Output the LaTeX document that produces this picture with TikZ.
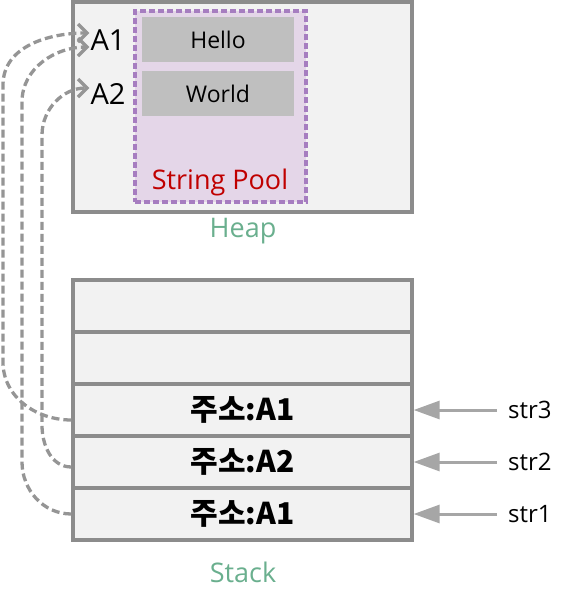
\documentclass[tikz,border=0pt]{standalone}
\usepackage{fontspec}
\setmainfont{Open Sans}
\newfontfamily\kr{Noto Sans CJK KR}
\usetikzlibrary{arrows.meta}
\definecolor{edgegray}{HTML}{8C8C8C}
\definecolor{areafill}{HTML}{F2F2F2}
\definecolor{cellgray}{HTML}{BFBFBF}
\definecolor{poolfill}{HTML}{E4D6E8}
\definecolor{poolpurple}{HTML}{A67DC0}
\definecolor{poolred}{HTML}{C00000}
\definecolor{capgreen}{HTML}{6AAF8E}
\definecolor{linkgray}{HTML}{959595}
\definecolor{ptrgray}{HTML}{A6A6A6}

\begin{document}
\begin{tikzpicture}[
  x=1pt, y=-1pt,
  area/.style={draw=edgegray, line width=3.3pt, fill=areafill,
    minimum width=339pt, inner sep=0pt},
  cell/.style={area, minimum height=52pt,
    font=\kr\bfseries\fontsize{30}{36}\selectfont},
  strbox/.style={fill=cellgray, minimum width=152pt, minimum height=45pt,
    inner sep=0pt, font=\fontsize{23}{28}\selectfont},
  addr/.style={font=\fontsize{29}{35}\selectfont, inner sep=0pt},
  caption/.style={text=capgreen, font=\fontsize{27}{32}\selectfont},
  ref/.style={draw=linkgray, line width=3.3pt, dash pattern=on 8pt off 4pt,
    -{Straight Barb[length=9pt,width=18pt]}},
  ptr/.style={draw=ptrgray, line width=3pt,
    -{Triangle[length=26pt,width=18pt]}},
  varname/.style={anchor=west, inner sep=0pt,
    font=\fontsize{24}{29}\selectfont}
]
  \useasboundingbox (0,0) rectangle (569,600);

  % heap with the string pool
  \node[area, minimum height=210pt] (heap) at (242.5,107) {};
  \node[draw=poolpurple, fill=poolfill, line width=3.3pt,
    dash pattern=on 6pt off 3pt, minimum width=171pt,
    minimum height=191pt] (pool) at (220.5,106.5) {};
  \node[strbox] (hello) at (218,39.5) {Hello};
  \node[strbox] (world) at (218,93.5) {World};
  \node[text=poolred, font=\fontsize{27}{32}\selectfont] (poolname)
    at (220,182) {String Pool};
  \node[addr] (a1) at (108,40) {A1};
  \node[addr] (a2) at (108,94) {A2};
  \node[caption] (heapname) at (243,231) {Heap};

  % stack frames
  \node[cell] (free1) at (242.5,306) {};
  \node[cell] (free2) at (242.5,358) {};
  \node[cell] (ref3) at (242.5,410) {주소:A1};
  \node[cell] (ref2) at (242.5,462) {주소:A2};
  \node[cell] (ref1) at (242.5,514) {주소:A1};
  \node[caption] (stackname) at (243,572) {Stack};

  \node[varname] (str3) at (508,410) {str3};
  \node[varname] (str2) at (508,462) {str2};
  \node[varname] (str1) at (508,514) {str1};
  \draw[ptr] ([xshift=-11pt]str3.west) -- (ref3.east);
  \draw[ptr] ([xshift=-11pt]str2.west) -- (ref2.east);
  \draw[ptr] ([xshift=-11pt]str1.west) -- (ref1.east);

  % references into the pool
  \draw[ref] ([yshift=-10pt]ref3.west) to[out=180,in=-90] (3,362)
    -- (3,85) to[out=90,in=180] ([xshift=-1pt,yshift=7pt]a1.west);
  \draw[ref] (ref1.west) to[out=180,in=-90] (22,462)
    -- (22,102) to[out=90,in=180] ([xshift=-1pt,yshift=-7pt]a1.west);
  \draw[ref] ([yshift=-5pt]ref2.west) to[out=180,in=-90] (42,425)
    -- (42,135) to[out=90,in=180] ([xshift=-1pt,yshift=6pt]a2.west);
\end{tikzpicture}
\end{document}
